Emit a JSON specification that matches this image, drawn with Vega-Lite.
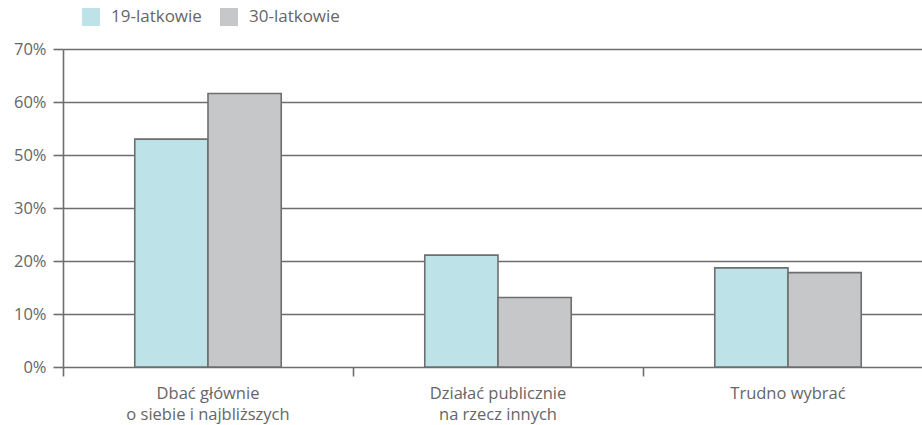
{
  "$schema": "https://vega.github.io/schema/vega-lite/v6.json",
  "width": 870,
  "height": 318,
  "autosize": {"type": "none"},
  "padding": {"left": 63, "top": 49, "right": 0, "bottom": 58},
  "background": "white",
  "config": {
    "view": {"stroke": null},
    "font": "Open Sans",
    "axis": {"labelFont": "Open Sans", "labelColor": "#666666", "labelFontSize": 16.5}
  },
  "data": {
    "values": [
      {"postawa": "Dbać głównie|o siebie i najbliższych", "grupa": "19-latkowie", "procent": 53},
      {"postawa": "Dbać głównie|o siebie i najbliższych", "grupa": "30-latkowie", "procent": 61.6},
      {"postawa": "Działać publicznie|na rzecz innych", "grupa": "19-latkowie", "procent": 21.1},
      {"postawa": "Działać publicznie|na rzecz innych", "grupa": "30-latkowie", "procent": 13.1},
      {"postawa": "Trudno wybrać", "grupa": "19-latkowie", "procent": 18.7},
      {"postawa": "Trudno wybrać", "grupa": "30-latkowie", "procent": 17.8}
    ]
  },
  "mark": {"type": "bar", "stroke": "#6e6e6e", "strokeWidth": 1.6},
  "encoding": {
    "x": {
      "field": "postawa",
      "type": "nominal",
      "sort": null,
      "scale": {"paddingInner": 0, "paddingOuter": 0},
      "axis": {
        "title": null,
        "labelAngle": 0,
        "labelExpr": "split(datum.label, '|')",
        "labelLineHeight": 21,
        "labelPadding": 9,
        "bandPosition": 0,
        "domain": false,
        "ticks": true,
        "tickColor": "#6e6e6e",
        "tickWidth": 1.6,
        "tickSize": 9
      }
    },
    "xOffset": {
      "field": "grupa",
      "type": "nominal",
      "scale": {"paddingInner": 0, "paddingOuter": 0.98}
    },
    "y": {
      "field": "procent",
      "type": "quantitative",
      "scale": {"domain": [0, 30, 50, 70], "range": [318, 159, 106, 0], "nice": false, "zero": false},
      "axis": {
        "title": null,
        "values": [0, 10, 20, 30, 50, 60, 70],
        "labelExpr": "datum.value + '%'",
        "labelFontSize": 16.5,
        "grid": true,
        "gridColor": "#6e6e6e",
        "gridWidth": 1.6,
        "domain": true,
        "domainColor": "#6e6e6e",
        "domainWidth": 1.6,
        "tickColor": "#6e6e6e",
        "tickWidth": 1.6,
        "tickSize": 10,
        "labelPadding": 7
      }
    },
    "color": {
      "field": "grupa",
      "type": "nominal",
      "scale": {"domain": ["19-latkowie", "30-latkowie"], "range": ["#bde3e9", "#c6c7c9"]},
      "legend": {
        "title": null,
        "orient": "none",
        "direction": "horizontal",
        "legendX": 19,
        "legendY": -41,
        "symbolType": "square",
        "symbolSize": 324,
        "symbolStrokeWidth": 0,
        "labelFontSize": 17,
        "labelColor": "#666666",
        "labelFont": "Open Sans",
        "columnPadding": 18,
        "labelOffset": 11
      }
    }
  }
}
